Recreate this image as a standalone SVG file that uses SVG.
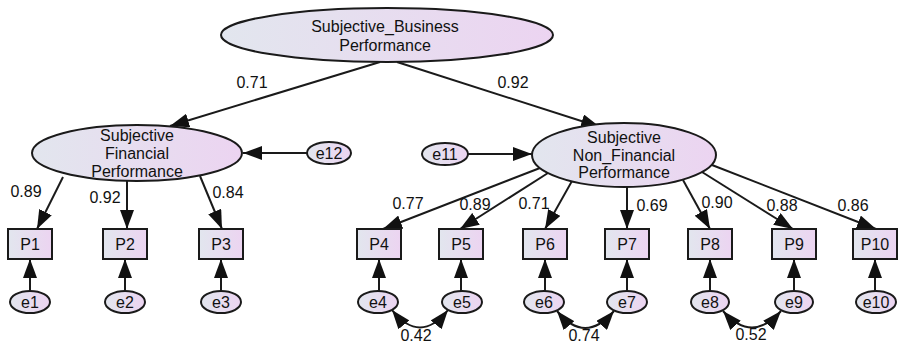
<svg xmlns="http://www.w3.org/2000/svg" width="898" height="344" viewBox="0 0 898 344">
<defs>
<linearGradient id="g" x1="0" y1="0" x2="1" y2="0">
<stop offset="0" stop-color="#e2e6ee"/>
<stop offset="1" stop-color="#ecd4f1"/>
</linearGradient>
<marker id="ah" markerUnits="userSpaceOnUse" markerWidth="19" markerHeight="14" refX="19" refY="7" orient="auto-start-reverse">
<path d="M0,0 L19,7 L0,14 z" fill="#111"/>
</marker>
</defs>
<style>
.n{fill:url(#g);stroke:#1a1a1a;stroke-width:2}
.t{font-family:"Liberation Sans",Arial,sans-serif;font-size:16px;fill:#111;text-anchor:middle}
.c{fill:none;stroke:#1a1a1a;stroke-width:2;marker-end:url(#ah)}
.cv{fill:none;stroke:#1a1a1a;stroke-width:2;marker-end:url(#ah);marker-start:url(#ah)}
</style>
<rect width="898" height="344" fill="#fff"/>
<g id="connectors">
<path class="c" d="M380,62 L170,126"/>
<path class="c" d="M397,62 L600,127"/>
<path class="c" d="M307,153 L243,153"/>
<path class="c" d="M468,154 L532,154"/>
<path class="c" d="M63,177 L37,229"/>
<path class="c" d="M127,181 L127,229"/>
<path class="c" d="M200,176 L222,229"/>
<path class="c" d="M540,168 L383,229"/>
<path class="c" d="M548,173 L460,229"/>
<path class="c" d="M572,181 L545,229"/>
<path class="c" d="M627,187 L627,229"/>
<path class="c" d="M683,180 L710,229"/>
<path class="c" d="M702,172 L793,229"/>
<path class="c" d="M712,165 L876,229"/>
<path class="c" d="M30,291 L30,259"/>
<path class="c" d="M125,291 L125,259"/>
<path class="c" d="M221,291 L221,259"/>
<path class="c" d="M379,291 L379,259"/>
<path class="c" d="M461,291 L461,259"/>
<path class="c" d="M545,291 L545,259"/>
<path class="c" d="M627,291 L627,259"/>
<path class="c" d="M710,291 L710,259"/>
<path class="c" d="M794,291 L794,259"/>
<path class="c" d="M875,291 L875,259"/>
<path class="cv" d="M392,310 Q420,345 448,310"/>
<path class="cv" d="M557,311 Q585,345 614,311"/>
<path class="cv" d="M723,311 Q752,344 781,311"/>
</g>
<g id="labels">
<text class="t" x="252" y="88">0.71</text>
<text class="t" x="513" y="88">0.92</text>
<text class="t" x="26" y="197">0.89</text>
<text class="t" x="105" y="203">0.92</text>
<text class="t" x="228" y="198">0.84</text>
<text class="t" x="408" y="209">0.77</text>
<text class="t" x="475" y="210">0.89</text>
<text class="t" x="534" y="209">0.71</text>
<text class="t" x="652" y="211">0.69</text>
<text class="t" x="717" y="208">0.90</text>
<text class="t" x="782" y="211">0.88</text>
<text class="t" x="853" y="211">0.86</text>
<text class="t" x="416" y="341">0.42</text>
<text class="t" x="584" y="341">0.74</text>
<text class="t" x="751" y="340">0.52</text>
</g>
<g id="SBP"><ellipse class="n" cx="387" cy="35" rx="166" ry="27"/><text class="t" x="385" y="32">Subjective_Business</text><text class="t" x="385" y="51">Performance</text></g>
<g id="SFP"><ellipse class="n" cx="137" cy="153" rx="105" ry="28"/><text class="t" x="137" y="141">Subjective</text><text class="t" x="137" y="159">Financial</text><text class="t" x="137" y="177">Performance</text></g>
<g id="SNFP"><ellipse class="n" cx="624" cy="155" rx="92" ry="32"/><text class="t" x="624" y="143">Subjective</text><text class="t" x="624" y="161">Non_Financial</text><text class="t" x="624" y="178">Performance</text></g>
<g id="e12"><ellipse class="n" cx="329" cy="153" rx="22" ry="11"/><text class="t" x="329" y="159">e12</text></g>
<g id="e11"><ellipse class="n" cx="445" cy="154" rx="23" ry="11"/><text class="t" x="445" y="160">e11</text></g>
<g id="P1"><rect class="n" x="8" y="229" width="44" height="30"/><text class="t" x="30" y="250">P1</text></g>
<g id="P2"><rect class="n" x="103" y="229" width="44" height="30"/><text class="t" x="125" y="250">P2</text></g>
<g id="P3"><rect class="n" x="199" y="229" width="44" height="30"/><text class="t" x="221" y="250">P3</text></g>
<g id="P4"><rect class="n" x="357" y="229" width="44" height="30"/><text class="t" x="379" y="250">P4</text></g>
<g id="P5"><rect class="n" x="439" y="229" width="44" height="30"/><text class="t" x="461" y="250">P5</text></g>
<g id="P6"><rect class="n" x="523" y="229" width="44" height="30"/><text class="t" x="545" y="250">P6</text></g>
<g id="P7"><rect class="n" x="605" y="229" width="44" height="30"/><text class="t" x="627" y="250">P7</text></g>
<g id="P8"><rect class="n" x="688" y="229" width="44" height="30"/><text class="t" x="710" y="250">P8</text></g>
<g id="P9"><rect class="n" x="772" y="229" width="44" height="30"/><text class="t" x="794" y="250">P9</text></g>
<g id="P10"><rect class="n" x="853" y="229" width="44" height="30"/><text class="t" x="875" y="250">P10</text></g>
<g id="e1"><ellipse class="n" cx="30" cy="302" rx="20" ry="11"/><text class="t" x="30" y="308">e1</text></g>
<g id="e2"><ellipse class="n" cx="125" cy="302" rx="20" ry="11"/><text class="t" x="125" y="308">e2</text></g>
<g id="e3"><ellipse class="n" cx="221" cy="302" rx="20" ry="11"/><text class="t" x="221" y="308">e3</text></g>
<g id="e4"><ellipse class="n" cx="378" cy="302" rx="20" ry="11"/><text class="t" x="378" y="308">e4</text></g>
<g id="e5"><ellipse class="n" cx="462" cy="302" rx="20" ry="11"/><text class="t" x="462" y="308">e5</text></g>
<g id="e6"><ellipse class="n" cx="544" cy="302" rx="20" ry="11"/><text class="t" x="544" y="308">e6</text></g>
<g id="e7"><ellipse class="n" cx="627" cy="302" rx="20" ry="11"/><text class="t" x="627" y="308">e7</text></g>
<g id="e8"><ellipse class="n" cx="710" cy="302" rx="19" ry="11"/><text class="t" x="710" y="308">e8</text></g>
<g id="e9"><ellipse class="n" cx="794" cy="302" rx="19" ry="11"/><text class="t" x="794" y="308">e9</text></g>
<g id="e10"><ellipse class="n" cx="876" cy="302" rx="20" ry="11"/><text class="t" x="876" y="308">e10</text></g>
</svg>
